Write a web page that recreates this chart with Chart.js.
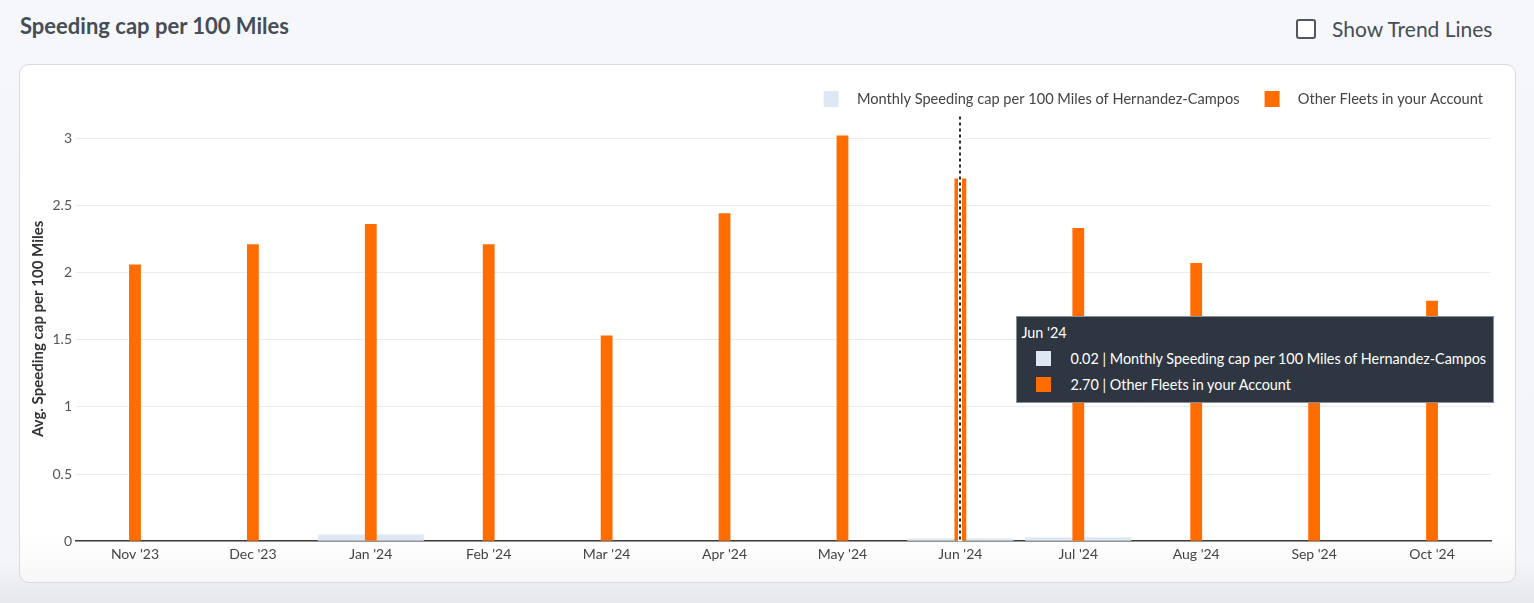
<!DOCTYPE html>
<html>
<head>
<meta charset="utf-8">
<script src="https://cdn.jsdelivr.net/npm/chart.js@4/dist/chart.umd.min.js"></script>
<style>
    html, body {
        margin: 0;
        padding: 0;
        width: 1534px;
        height: 603px;
        overflow: hidden;
        font-family: Lato, "Noto Sans", sans-serif;
        background: linear-gradient(#f6f7fb 0, #f4f5f9 560px, #e7e8eb 603px);
    }
    .title {
        position: absolute;
        left: 20px;
        top: 12px;
        font-size: 22px;
        font-weight: 700;
        color: #454d56;
    }
    .trend {
        position: absolute;
        left: 1296px;
        top: 16px;
        font-size: 21px;
        color: #454d56;
        display: flex;
        align-items: center;
    }
    .trend .box {
        width: 16px;
        height: 16px;
        border: 2px solid #50565c;
        border-radius: 3px;
        margin-right: 16px;
        background: #fff;
    }
    .card {
        position: absolute;
        left: 19px;
        top: 64px;
        width: 1495px;
        height: 517px;
        border: 1px solid #d8dadf;
        border-radius: 10px;
        background: linear-gradient(#ffffff 0, #ffffff 470px, #f7f7f8 517px);
    }
    .chart-wrap {
        position: absolute;
        left: 0;
        top: 6px;
        width: 1495px;
        height: 511px;
    }
    #tip {
        position: absolute;
        background: #2e3641;
        border: 1px solid #8a8f96;
        color: #fff;
        font-size: 14.4px;
        padding: 7px 7px 9px 4px;
        pointer-events: none;
        white-space: nowrap;
        opacity: 0;
    }
    #tip .row {
        display: flex;
        align-items: center;
        margin-top: 9px;
        padding-left: 15px;
    }
    #tip .sw {
        width: 15px;
        height: 15px;
        margin-right: 19px;
    }
</style>
</head>
<body>
<div class="title">Speeding cap per 100 Miles</div>
<div class="trend"><div class="box"></div>Show Trend Lines</div>
<div class="card">
    <div class="chart-wrap"><canvas id="speeding-chart"></canvas></div>
    <div id="tip"></div>
</div>
<script>
const months = ["Nov '23", "Dec '23", "Jan '24", "Feb '24", "Mar '24", "Apr '24",
    "May '24", "Jun '24", "Jul '24", "Aug '24", "Sep '24", "Oct '24"];
const fleetValues = [0, 0, 0.05, 0, 0, 0, 0, 0.02, 0.03, 0, 0, 0];
const otherFleetValues = [2.06, 2.21, 2.36, 2.21, 1.53, 2.44, 3.02, 2.70, 2.33, 2.07, 1.45, 1.79];
const yTicks = [0, 0.5, 1, 1.5, 2, 2.5, 3];
const hoveredMonth = "Jun '24";

const ORANGE = '#ff6c00';
const LIGHT_BLUE = '#dee8f4';

// legend swatch: empty space, coloured square, empty space before the text
function swatch(color) {
    const c = document.createElement('canvas');
    c.width = 43;
    c.height = 16;
    const g = c.getContext('2d');
    g.fillStyle = color;
    g.fillRect(17, 0, 15, 16);
    return c;
}

// dashed spike line at the hovered month
const spikeLine = {
    id: 'spikeLine',
    afterDatasetsDraw(chart) {
        const active = chart.tooltip.getActiveElements();
        if (!active.length) return;
        const x = Math.round(active[0].element.x);
        const {top, bottom} = chart.chartArea;
        const ctx = chart.ctx;
        ctx.save();
        ctx.strokeStyle = '#ffffff';
        ctx.lineWidth = 4;
        ctx.beginPath();
        ctx.moveTo(x, top);
        ctx.lineTo(x, bottom);
        ctx.stroke();
        ctx.strokeStyle = '#2b2b2b';
        ctx.lineWidth = 2;
        ctx.setLineDash([3, 3]);
        ctx.beginPath();
        ctx.moveTo(x, top);
        ctx.lineTo(x, bottom);
        ctx.stroke();
        ctx.restore();
    }
};

function htmlTooltip(context) {
    const {chart, tooltip} = context;
    const el = document.getElementById('tip');
    if (tooltip.opacity === 0) {
        el.style.opacity = 0;
        return;
    }
    let html = '<div>' + tooltip.title[0] + '</div>';
    tooltip.dataPoints.forEach((p) => {
        const color = p.dataset.backgroundColor;
        html += '<div class="row"><span class="sw" style="background:' + color + '"></span>' +
            p.parsed.y.toFixed(2) + ' | ' + p.dataset.label + '</div>';
    });
    el.innerHTML = html;
    el.style.opacity = 1;
    const wrap = chart.canvas.parentNode;
    el.style.left = (wrap.offsetLeft + tooltip.caretX + 56) + 'px';
    el.style.top = (wrap.offsetTop + tooltip.caretY - el.offsetHeight / 2 + 1) + 'px';
}

const ctx = document.getElementById('speeding-chart').getContext('2d');
const chart = new Chart(ctx, {
    type: 'bar',
    data: {
        labels: months,
        datasets: [{
            label: 'Other Fleets in your Account',
            data: otherFleetValues,
            backgroundColor: ORANGE,
            hoverBackgroundColor: ORANGE,
            barPercentage: 0.1,
            categoryPercentage: 1,
            grouped: false
        }, {
            label: 'Monthly Speeding cap per 100 Miles of Hernandez-Campos',
            data: fleetValues,
            backgroundColor: LIGHT_BLUE,
            hoverBackgroundColor: LIGHT_BLUE,
            barPercentage: 0.9,
            categoryPercentage: 1,
            grouped: false
        }]
    },
    options: {
        responsive: true,
        maintainAspectRatio: false,
        animation: false,
        layout: {
            padding: {top: 13, left: 6, right: 24, bottom: 14}
        },
        interaction: {mode: 'index', intersect: false},
        scales: {
            x: {
                grid: {display: false, drawTicks: false},
                border: {color: '#3c3c3c', width: 1.5},
                ticks: {
                    color: '#444',
                    font: {family: 'Lato', size: 14},
                    padding: 5,
                    maxRotation: 0
                }
            },
            y: {
                min: 0,
                max: 3.16,
                afterBuildTicks(scale) {
                    scale.ticks = yTicks.map((v) => ({value: v}));
                },
                afterFit(scale) {
                    scale.width = 50;
                },
                grid: {color: '#ececec', drawTicks: false},
                border: {display: false},
                ticks: {
                    color: '#555',
                    font: {family: 'Lato', size: 14},
                    padding: 4,
                    callback: (v) => String(v)
                },
                title: {
                    display: true,
                    text: 'Avg. Speeding cap per 100 Miles',
                    color: '#333',
                    font: {family: 'Lato', size: 15, weight: 'bold'},
                    padding: {top: 3, bottom: 3}
                }
            }
        },
        plugins: {
            legend: {
                position: 'top',
                align: 'end',
                labels: {
                    usePointStyle: true,
                    pointStyleWidth: 43,
                    boxHeight: 16,
                    color: '#444',
                    font: {family: 'Lato', size: 14.6},
                    padding: 8,
                    sort: (a, b) => b.datasetIndex - a.datasetIndex,
                    generateLabels(chart) {
                        const items = Chart.defaults.plugins.legend.labels.generateLabels(chart);
                        items.forEach((it) => {
                            it.pointStyle = swatch(it.fillStyle);
                        });
                        return items;
                    }
                }
            },
            tooltip: {
                enabled: false,
                position: 'average',
                itemSort: (a, b) => b.datasetIndex - a.datasetIndex,
                external: htmlTooltip
            }
        }
    },
    plugins: [spikeLine]
});

// show the hover state for the highlighted month
const idx = months.indexOf(hoveredMonth);
const activeEls = chart.data.datasets.map((d, i) => ({datasetIndex: i, index: idx}));
const el = chart.getDatasetMeta(0).data[idx];
chart.setActiveElements(activeEls);
chart.tooltip.setActiveElements(activeEls, {x: el.x, y: el.y});
chart.update();
</script>
</body>
</html>
